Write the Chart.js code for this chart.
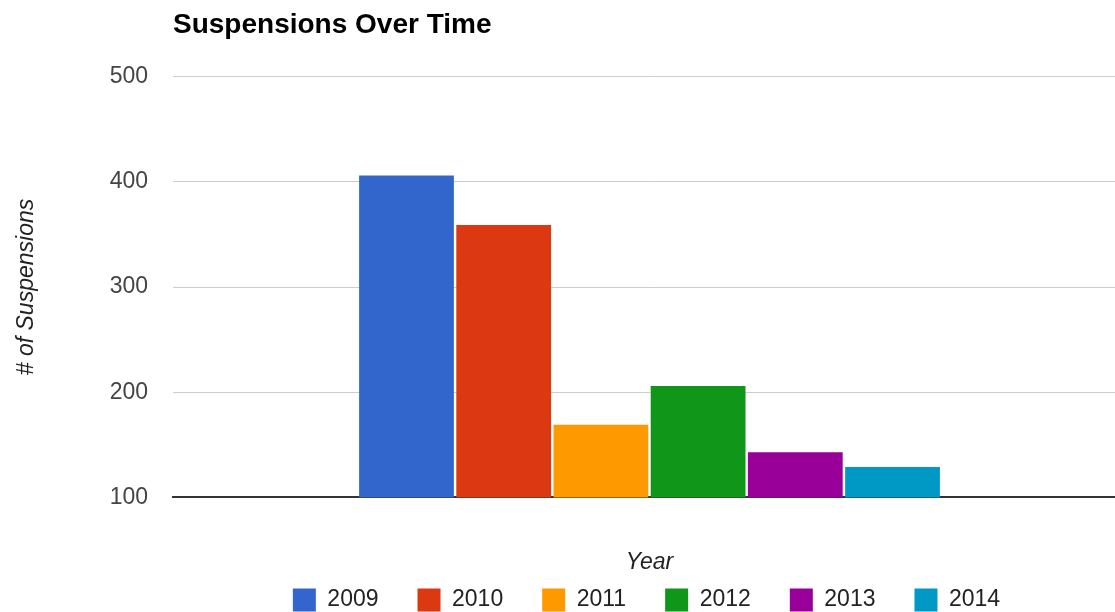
<!DOCTYPE html>
<html>
<head>
<meta charset="utf-8">
<title>Suspensions Over Time</title>
<script src="https://cdn.jsdelivr.net/npm/chart.js@4.4.1/dist/chart.umd.min.js"></script>
<style>
  html, body { margin: 0; padding: 0; background: #fff; overflow: hidden; }
  #wrap { width: 1126px; height: 612px; position: relative; }
</style>
</head>
<body>
<div id="wrap"><canvas id="chart"></canvas></div>
<script>
// data
const categories = [''];
const years = ['2009', '2010', '2011', '2012', '2013', '2014'];
const suspensions = [406, 359, 169, 206, 143, 129];
const yearColors = ['#3366cc', '#dc3912', '#ff9900', '#109618', '#990099', '#0099c6'];
const yTicks = [100, 200, 300, 400, 500];

const FONT = '"Liberation Sans", Arial, sans-serif';

// google-style: title and legend line up with the plot area, not the canvas
const alignToPlot = {
  id: 'alignToPlot',
  afterLayout(chart) {
    const area = chart.chartArea;
    if (chart.titleBlock) {
      chart.titleBlock.left = area.left;
    }
    if (chart.legend) {
      const pad = chart.legend.options.labels.padding;
      chart.legend.left = area.left - 3;
      chart.legend.right = area.right - 3;
      chart.legend.top = 600 - 11.5 - pad;
    }
  }
};

const datasets = years.map((year, i) => ({
  label: year,
  data: [suspensions[i]],
  backgroundColor: yearColors[i],
  borderWidth: 0,
  categoryPercentage: 0.612,
  barPercentage: 0.975
}));

new Chart(document.getElementById('chart').getContext('2d'), {
  type: 'bar',
  data: { labels: categories, datasets: datasets },
  plugins: [alignToPlot],
  options: {
    responsive: true,
    maintainAspectRatio: false,
    animation: false,
    devicePixelRatio: 1,
    layout: { padding: 0 },
    plugins: {
      title: {
        display: true,
        text: 'Suspensions Over Time',
        align: 'start',
        color: '#000',
        font: { family: FONT, size: 28, weight: 'bold' },
        padding: { top: 8, bottom: 35 }
      },
      legend: {
        position: 'bottom',
        maxHeight: 36,
        labels: {
          boxWidth: 23,
          boxHeight: 23,
          padding: 39,
          color: '#222',
          font: { family: FONT, size: 23 }
        }
      },
      tooltip: { enabled: false }
    },
    scales: {
      x: {
        grid: { display: false, drawTicks: false },
        border: { display: true, color: '#333', width: 2 },
        ticks: { display: false },
        title: {
          display: true,
          text: 'Year',
          color: '#222',
          font: { family: FONT, size: 23, style: 'italic' },
          padding: { top: 51, bottom: 0 }
        }
      },
      y: {
        min: yTicks[0],
        max: yTicks[yTicks.length - 1],
        afterFit(scale) { scale.width = 173; },
        afterBuildTicks(scale) { scale.ticks = yTicks.map(v => ({ value: v })); },
        grid: {
          drawTicks: false,
          color: ctx => (ctx.tick && ctx.tick.value === yTicks[0]) ? 'rgba(0,0,0,0)' : '#cccccc'
        },
        border: { display: false },
        ticks: {
          padding: 25,
          color: '#444',
          font: { family: FONT, size: 23 }
        },
        title: {
          display: true,
          text: '# of Suspensions',
          color: '#222',
          font: { family: FONT, size: 23, style: 'italic' },
          padding: { top: 13, bottom: 0 }
        }
      }
    }
  }
});
</script>
</body>
</html>
